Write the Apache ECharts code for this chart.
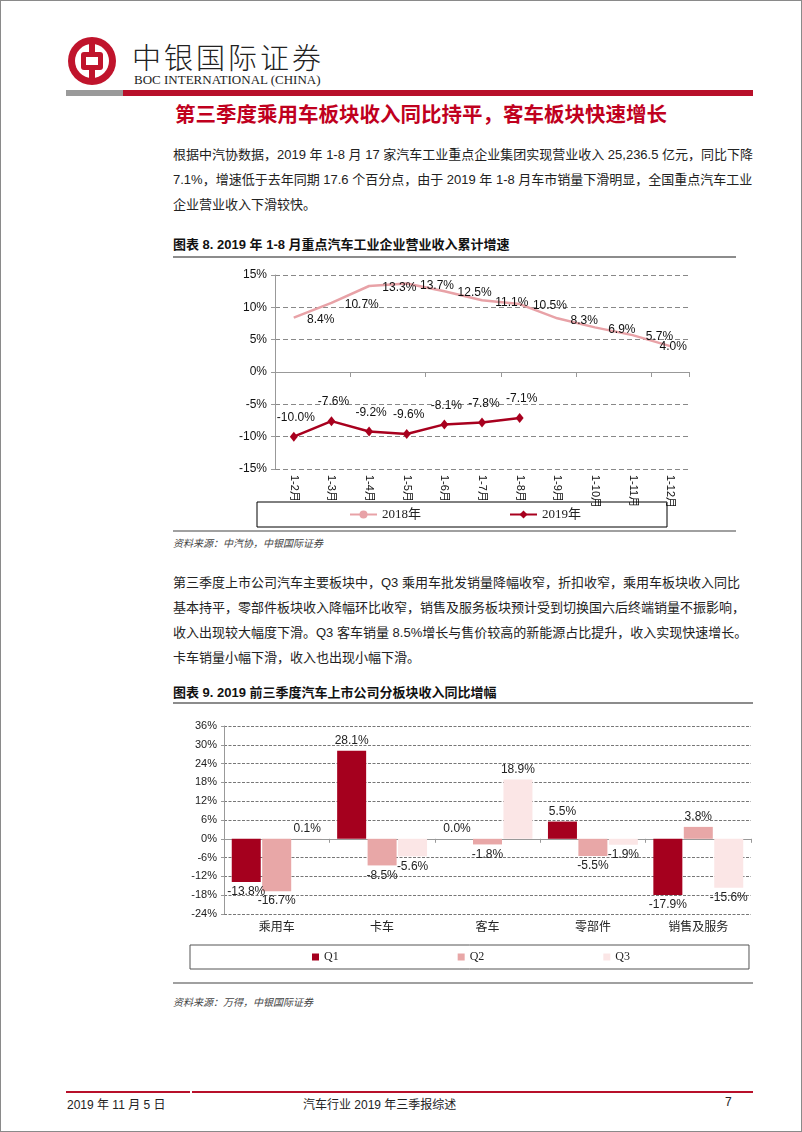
<!DOCTYPE html>
<html><head><meta charset="utf-8">
<script src="https://cdn.jsdelivr.net/npm/echarts/dist/echarts.min.js"></script>
<style>
html,body{margin:0;padding:0;background:#fff;}
#page{position:relative;width:802px;height:1132px;box-sizing:border-box;border:1px solid #8a8a8a;overflow:hidden;font-family:"Liberation Sans","Noto Sans CJK SC",sans-serif;color:#222;}
.abs{position:absolute;}
.para{position:absolute;left:172px;width:563px;font-size:13px;line-height:25px;}
.para div{white-space:nowrap;text-align:justify;text-align-last:justify;height:25px;}
.para div.last{text-align-last:left;}
.ctitle{position:absolute;left:172px;font-size:13px;font-weight:bold;color:#111;white-space:nowrap;}
.src{position:absolute;left:172px;font-size:10px;font-style:italic;color:#444;white-space:nowrap;}
.hr{position:absolute;left:172px;background:#8c8c8c;}
</style>
</head><body>
<div id="page">
  <svg class="abs" style="left:66px;top:35px" width="50" height="50" viewBox="0 0 50 50">
    <circle cx="25" cy="25" r="24" fill="#C0142C"/>
    <circle cx="25" cy="25" r="17" fill="#fff"/>
    <rect x="22" y="2" width="6" height="46" fill="#C0142C"/>
    <rect x="14" y="16" width="22" height="18" rx="3" fill="#C0142C"/>
    <rect x="19" y="21" width="12" height="8" fill="#fff"/>
  </svg>
  <div class="abs" style="left:131px;top:34px;font-size:29px;letter-spacing:3px;font-weight:300;color:#222;white-space:nowrap;">中银国际证券</div>
  <div class="abs" style="left:133px;top:71px;font-family:'Liberation Serif',serif;font-size:13px;color:#222;white-space:nowrap;">BOC INTERNATIONAL (CHINA)</div>
  <div class="abs" style="left:65px;top:89px;width:57px;height:6px;background:#9a9a9a;"></div>
  <div class="abs" style="left:122px;top:89px;width:630px;height:6px;background:#B8102A;"></div>
  <div class="abs" style="left:174px;top:101px;font-size:20.5px;font-weight:bold;color:#C0001E;white-space:nowrap;line-height:26px;">第三季度乘用车板块收入同比持平，客车板块快速增长</div>

  <div class="para" style="top:141px;">
    <div>根据中汽协数据，2019 年 1-8 月 17 家汽车工业重点企业集团实现营业收入 25,236.5 亿元，同比下降</div>
    <div>7.1%，增速低于去年同期 17.6 个百分点，由于 2019 年 1-8 月车市销量下滑明显，全国重点汽车工业</div>
    <div class="last">企业营业收入下滑较快。</div>
  </div>

  <div class="ctitle" style="top:233px;">图表 8. 2019 年 1-8 月重点汽车工业企业营业收入累计增速</div>
  <div class="hr" style="top:255px;width:563px;height:2px;"></div>
  <div id="chart1" class="abs" style="left:0;top:258px;width:800px;height:270px;"></div>
  <div class="hr" style="top:529px;width:563px;height:2px;background:#a0a0a0;"></div>
  <div class="src" style="top:534px;">资料来源：中汽协，中银国际证券</div>

  <div class="para" style="top:569px;">
    <div>第三季度上市公司汽车主要板块中，Q3 乘用车批发销量降幅收窄，折扣收窄，乘用车板块收入同比</div>
    <div>基本持平，零部件板块收入降幅环比收窄，销售及服务板块预计受到切换国六后终端销量不振影响，</div>
    <div>收入出现较大幅度下滑。Q3 客车销量 8.5%增长与售价较高的新能源占比提升，收入实现快速增长。</div>
    <div class="last">卡车销量小幅下滑，收入也出现小幅下滑。</div>
  </div>

  <div class="ctitle" style="top:681px;">图表 9. 2019 前三季度汽车上市公司分板块收入同比增幅</div>
  <div class="hr" style="top:701px;width:580px;height:2px;"></div>
  <div id="chart2" class="abs" style="left:0;top:705px;width:800px;height:275px;"></div>
  <div class="hr" style="top:981px;width:580px;height:2px;background:#a0a0a0;"></div>
  <div class="src" style="top:993px;">资料来源：万得，中银国际证券</div>

  <div class="abs" style="left:65px;top:1090px;width:124px;height:2px;background:#B8102A;"></div>
  <div class="abs" style="left:191px;top:1090px;width:561px;height:2px;background:#B8102A;"></div>
  <div class="abs" style="left:66px;top:1094px;font-size:12px;white-space:nowrap;">2019 年 11 月 5 日</div>
  <div class="abs" style="left:302px;top:1094px;font-size:12px;white-space:nowrap;">汽车行业 2019 年三季报综述</div>
  <div class="abs" style="left:724px;top:1094px;font-size:12px;white-space:nowrap;">7</div>
</div>
<script>
// ---------- Chart 8 data ----------
const months = ['1-2月','1-3月','1-4月','1-5月','1-6月','1-7月','1-8月','1-9月','1-10月','1-11月','1-12月'];
const growth2018 = [8.4, 10.7, 13.3, 13.7, 12.5, 11.1, 10.5, 8.3, 6.9, 5.7, 4.0];
const growth2019 = [-10.0, -7.6, -9.2, -9.6, -8.1, -7.8, -7.1];
const series8Names = ['2018年', '2019年'];
const yMin8 = -15, yMax8 = 15, yStep8 = 5;

// ---------- Chart 9 data ----------
const sectors = ['乘用车', '卡车', '客车', '零部件', '销售及服务'];
const q1 = [-13.8, 28.1, 0.0, 5.5, -17.9];
const q2 = [-16.7, -8.5, -1.8, -5.5, 3.8];
const q3 = [0.1, -5.6, 18.9, -1.9, -15.6];
const quarterNames = ['Q1', 'Q2', 'Q3'];
const yMin9 = -24, yMax9 = 36, yStep9 = 6;

const sans = '"Liberation Sans","Noto Sans CJK SC",sans-serif';
const serif = '"Liberation Serif","Noto Sans CJK SC",serif';
const pct = p => p.value.toFixed(1) + '%';

// ---------- Chart 8 ----------
const c1 = echarts.init(document.getElementById('chart1'), null, {renderer: 'canvas'});
const d2018 = growth2018.map((v, i) => {
  const item = {value: v};
  if (i === growth2018.length - 1) item.label = {position: 'inside', offset: [3, 1]};
  return item;
});
c1.setOption({
  animation: false,
  grid: {left: 274, right: 112, top: 16, height: 194},
  legend: {
    left: 256, top: 243, orient: 'horizontal',
    data: series8Names,
    itemWidth: 27, itemHeight: 10, itemGap: 88,
    padding: [6, 86, 6, 92],
    borderColor: '#000', borderWidth: 1,
    textStyle: {fontFamily: serif, fontSize: 13, color: '#222'}
  },
  xAxis: [
    {type: 'category', data: months, position: 'bottom',
     axisLine: {show: false, onZero: false}, axisTick: {show: false},
     axisLabel: {rotate: -90, fontSize: 11, color: '#111', fontFamily: sans, margin: 6}},
    {type: 'category', data: months, position: 'bottom',
     axisLine: {show: true, onZero: true, lineStyle: {color: '#999', width: 1}},
     axisTick: {show: true, length: 5, lineStyle: {color: '#999'}},
     axisLabel: {show: false}}
  ],
  yAxis: {
    type: 'value', min: yMin8, max: yMax8, interval: yStep8,
    axisLine: {show: true, lineStyle: {color: '#999'}},
    axisTick: {show: true, length: 4, lineStyle: {color: '#999'}},
    axisLabel: {formatter: '{value}%', fontSize: 12, color: '#111', fontFamily: sans, margin: 8},
    splitLine: {show: true, lineStyle: {color: '#888', type: [5, 3], width: 1}}
  },
  series: [
    {name: series8Names[0], type: 'line', data: d2018, xAxisIndex: 0,
     symbol: 'circle', symbolSize: 0.5, showSymbol: true,
     lineStyle: {color: '#E8A2A7', width: 2.5}, itemStyle: {color: '#E8A2A7'},
     label: {show: true, position: 'right', distance: 13, offset: [0, 2], formatter: pct,
             fontSize: 12, color: '#111', fontFamily: sans}},
    {name: series8Names[1], type: 'line', data: growth2019, xAxisIndex: 0,
     symbol: 'diamond', symbolSize: [8, 10],
     lineStyle: {color: '#A8001E', width: 2.5}, itemStyle: {color: '#A8001E'},
     label: {show: true, position: 'top', distance: 8, offset: [2, 0], formatter: pct,
             fontSize: 12, color: '#111', fontFamily: sans}}
  ]
});

// ---------- Chart 9 ----------
const c2 = echarts.init(document.getElementById('chart2'), null, {renderer: 'canvas'});
const barData = arr => arr.map(v => ({value: v, label: {position: v >= 0 ? 'top' : 'bottom'}}));
const colors9 = ['#A5001E', '#E8A7A7', '#FBE6E6'];
const barLabel = {show: true, distance: 4, formatter: pct, fontSize: 12, color: '#222', fontFamily: sans};
c2.setOption({
  animation: false,
  grid: {left: 223, right: 50, top: 20, height: 188},
  legend: {
    left: 189, top: 239,
    data: quarterNames,
    icon: 'rect', itemWidth: 7, itemHeight: 7, itemGap: 119,
    padding: [6, 119, 6, 122],
    borderColor: '#555', borderWidth: 1,
    textStyle: {fontFamily: serif, fontSize: 12, color: '#222'}
  },
  xAxis: [
    {type: 'category', data: sectors, position: 'bottom',
     axisLine: {show: false, onZero: false}, axisTick: {show: false},
     axisLabel: {fontSize: 12, color: '#222', fontFamily: sans, margin: 8}},
    {type: 'category', data: sectors, position: 'bottom',
     axisLine: {show: true, onZero: true, lineStyle: {color: '#999', width: 1}},
     axisTick: {show: true, length: 4, lineStyle: {color: '#999'}},
     axisLabel: {show: false}}
  ],
  yAxis: {
    type: 'value', min: yMin9, max: yMax9, interval: yStep9,
    axisLine: {show: true, lineStyle: {color: '#999'}},
    axisTick: {show: true, length: 3, lineStyle: {color: '#999'}},
    axisLabel: {formatter: '{value}%', fontSize: 11, color: '#222', fontFamily: sans, margin: 7},
    splitLine: {show: true, lineStyle: {color: '#777', type: [3, 1.5], width: 1}}
  },
  series: [q1, q2, q3].map((arr, i) => ({
    name: quarterNames[i], type: 'bar', xAxisIndex: 0, data: barData(arr),
    barWidth: 29, barGap: '5%',
    itemStyle: {color: colors9[i]},
    label: barLabel
  }))
});
</script>
</body></html>
